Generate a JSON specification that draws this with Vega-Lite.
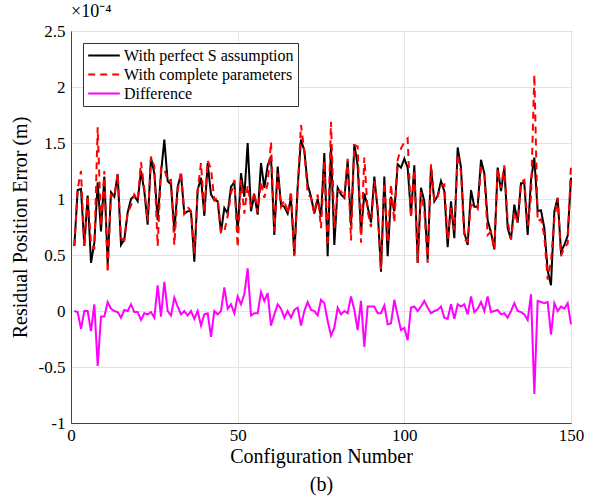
{
  "$schema": "https://vega.github.io/schema/vega-lite/v6.json",
  "width": 500,
  "height": 392,
  "autosize": {"type": "none"},
  "padding": {"left": 71, "top": 31, "right": 23, "bottom": 81},
  "background": "white",
  "title": {"text": "×10⁻⁴", "anchor": "start", "frame": "group", "font": "Liberation Serif", "fontSize": 18, "fontWeight": "normal", "color": "#000", "offset": 1},
  "data": {"values": [
    {"n":1,"S":0.58,"C":0.58,"D":0.00},{"n":2,"S":1.08,"C":1.09,"D":-0.01},{"n":3,"S":1.09,"C":1.25,"D":-0.16},{"n":4,"S":0.58,"C":0.58,"D":0.00},{"n":5,"S":1.03,"C":1.03,"D":0.00},
    {"n":6,"S":0.43,"C":0.61,"D":-0.18},{"n":7,"S":0.61,"C":0.55,"D":0.06},{"n":8,"S":1.15,"C":1.64,"D":-0.49},{"n":9,"S":0.71,"C":0.76,"D":-0.05},{"n":10,"S":1.20,"C":1.25,"D":-0.05},
    {"n":11,"S":0.42,"C":0.34,"D":0.08},{"n":12,"S":1.06,"C":1.04,"D":0.02},{"n":13,"S":1.02,"C":1.02,"D":0.00},{"n":14,"S":1.22,"C":1.23,"D":-0.01},{"n":15,"S":0.59,"C":0.65,"D":-0.06},
    {"n":16,"S":0.64,"C":0.63,"D":0.01},{"n":17,"S":0.88,"C":0.88,"D":0.00},{"n":18,"S":1.00,"C":0.94,"D":0.06},{"n":19,"S":1.03,"C":1.04,"D":-0.01},{"n":20,"S":0.98,"C":0.99,"D":-0.01},
    {"n":21,"S":1.25,"C":1.33,"D":-0.08},{"n":22,"S":1.07,"C":1.09,"D":-0.02},{"n":23,"S":0.77,"C":0.80,"D":-0.03},{"n":24,"S":1.37,"C":1.38,"D":-0.01},{"n":25,"S":1.23,"C":1.29,"D":-0.06},
    {"n":26,"S":0.81,"C":0.58,"D":0.23},{"n":27,"S":1.23,"C":1.28,"D":-0.05},{"n":28,"S":1.53,"C":1.27,"D":0.26},{"n":29,"S":1.16,"C":1.16,"D":0.00},{"n":30,"S":1.13,"C":1.17,"D":-0.04},
    {"n":31,"S":0.71,"C":0.59,"D":0.12},{"n":32,"S":1.11,"C":1.07,"D":0.04},{"n":33,"S":1.22,"C":1.25,"D":-0.03},{"n":34,"S":0.87,"C":0.87,"D":0.00},{"n":35,"S":0.89,"C":0.93,"D":-0.04},
    {"n":36,"S":0.89,"C":0.89,"D":0.00},{"n":37,"S":0.44,"C":0.51,"D":-0.07},{"n":38,"S":1.08,"C":1.08,"D":0.00},{"n":39,"S":1.19,"C":1.32,"D":-0.13},{"n":40,"S":0.85,"C":0.88,"D":-0.03},
    {"n":41,"S":1.32,"C":1.34,"D":-0.02},{"n":42,"S":1.04,"C":1.27,"D":-0.23},{"n":43,"S":0.99,"C":0.99,"D":0.00},{"n":44,"S":0.98,"C":1.01,"D":-0.03},{"n":45,"S":0.70,"C":0.70,"D":0.00},
    {"n":46,"S":0.92,"C":0.71,"D":0.21},{"n":47,"S":0.87,"C":0.85,"D":0.02},{"n":48,"S":1.11,"C":1.05,"D":0.06},{"n":49,"S":1.15,"C":1.17,"D":-0.02},{"n":50,"S":0.70,"C":0.57,"D":0.13},
    {"n":51,"S":1.23,"C":1.17,"D":0.06},{"n":52,"S":1.02,"C":0.87,"D":0.15},{"n":53,"S":1.50,"C":1.12,"D":0.38},{"n":54,"S":0.89,"C":0.93,"D":-0.04},{"n":55,"S":1.04,"C":1.06,"D":-0.02},
    {"n":56,"S":0.86,"C":0.88,"D":-0.02},{"n":57,"S":1.32,"C":1.15,"D":0.17},{"n":58,"S":1.10,"C":1.01,"D":0.09},{"n":59,"S":1.30,"C":1.14,"D":0.16},{"n":60,"S":1.38,"C":1.51,"D":-0.13},
    {"n":61,"S":0.68,"C":0.71,"D":-0.03},{"n":62,"S":1.29,"C":1.23,"D":0.06},{"n":63,"S":0.95,"C":0.93,"D":0.02},{"n":64,"S":0.93,"C":0.99,"D":-0.06},{"n":65,"S":0.87,"C":0.87,"D":0.00},
    {"n":66,"S":1.01,"C":1.07,"D":-0.06},{"n":67,"S":0.50,"C":0.49,"D":0.01},{"n":68,"S":1.11,"C":1.08,"D":0.03},{"n":69,"S":1.53,"C":1.66,"D":-0.13},{"n":70,"S":1.43,"C":1.43,"D":0.00},
    {"n":71,"S":1.13,"C":1.05,"D":0.08},{"n":72,"S":1.02,"C":1.01,"D":0.01},{"n":73,"S":0.87,"C":0.87,"D":0.00},{"n":74,"S":1.00,"C":1.04,"D":-0.04},{"n":75,"S":0.84,"C":0.74,"D":0.10},
    {"n":76,"S":1.41,"C":1.34,"D":0.07},{"n":77,"S":0.49,"C":0.58,"D":-0.09},{"n":78,"S":1.47,"C":1.69,"D":-0.22},{"n":79,"S":0.59,"C":0.74,"D":-0.15},{"n":80,"S":1.10,"C":1.07,"D":0.03},
    {"n":81,"S":1.04,"C":1.07,"D":-0.03},{"n":82,"S":1.01,"C":1.01,"D":0.00},{"n":83,"S":1.34,"C":1.36,"D":-0.02},{"n":84,"S":0.76,"C":0.63,"D":0.13},{"n":85,"S":1.49,"C":1.48,"D":0.01},
    {"n":86,"S":1.30,"C":1.47,"D":-0.17},{"n":87,"S":0.70,"C":0.61,"D":0.09},{"n":88,"S":1.05,"C":1.37,"D":-0.32},{"n":89,"S":0.93,"C":0.89,"D":0.04},{"n":90,"S":0.79,"C":0.75,"D":0.04},
    {"n":91,"S":1.20,"C":1.16,"D":0.04},{"n":92,"S":0.90,"C":0.92,"D":-0.02},{"n":93,"S":0.35,"C":0.37,"D":-0.02},{"n":94,"S":1.20,"C":1.15,"D":0.05},{"n":95,"S":0.49,"C":0.61,"D":-0.12},
    {"n":96,"S":1.02,"C":1.13,"D":-0.11},{"n":97,"S":0.89,"C":0.79,"D":0.10},{"n":98,"S":1.31,"C":1.35,"D":-0.04},{"n":99,"S":1.28,"C":1.45,"D":-0.17},{"n":100,"S":1.36,"C":1.51,"D":-0.15},
    {"n":101,"S":1.28,"C":1.54,"D":-0.26},{"n":102,"S":0.86,"C":0.83,"D":0.03},{"n":103,"S":1.30,"C":1.26,"D":0.04},{"n":104,"S":0.43,"C":0.43,"D":0.00},{"n":105,"S":1.10,"C":1.06,"D":0.04},
    {"n":106,"S":0.98,"C":0.89,"D":0.09},{"n":107,"S":0.46,"C":0.43,"D":0.03},{"n":108,"S":1.29,"C":1.31,"D":-0.02},{"n":109,"S":0.98,"C":0.98,"D":0.00},{"n":110,"S":1.03,"C":1.02,"D":0.01},
    {"n":111,"S":1.16,"C":1.12,"D":0.04},{"n":112,"S":1.07,"C":1.13,"D":-0.06},{"n":113,"S":0.57,"C":0.64,"D":-0.07},{"n":114,"S":0.98,"C":0.92,"D":0.06},{"n":115,"S":0.65,"C":0.72,"D":-0.07},
    {"n":116,"S":1.46,"C":1.40,"D":0.06},{"n":117,"S":1.28,"C":1.24,"D":0.04},{"n":118,"S":0.70,"C":0.64,"D":0.06},{"n":119,"S":0.59,"C":0.62,"D":-0.03},{"n":120,"S":1.08,"C":0.95,"D":0.13},
    {"n":121,"S":0.93,"C":0.94,"D":-0.01},{"n":122,"S":0.93,"C":0.91,"D":0.02},{"n":123,"S":1.35,"C":1.27,"D":0.08},{"n":124,"S":1.23,"C":1.23,"D":0.00},{"n":125,"S":0.81,"C":0.68,"D":0.13},
    {"n":126,"S":0.70,"C":0.71,"D":-0.01},{"n":127,"S":0.55,"C":0.55,"D":0.00},{"n":128,"S":1.28,"C":1.27,"D":0.01},{"n":129,"S":1.07,"C":1.10,"D":-0.03},{"n":130,"S":1.28,"C":1.30,"D":-0.02},
    {"n":131,"S":0.74,"C":0.80,"D":-0.06},{"n":132,"S":0.64,"C":0.64,"D":0.00},{"n":133,"S":0.95,"C":0.88,"D":0.07},{"n":134,"S":0.79,"C":0.79,"D":0.00},{"n":135,"S":1.14,"C":1.15,"D":-0.01},
    {"n":136,"S":1.14,"C":1.17,"D":-0.03},{"n":137,"S":0.68,"C":0.76,"D":-0.08},{"n":138,"S":1.17,"C":1.02,"D":0.15},{"n":139,"S":1.37,"C":2.11,"D":-0.74},{"n":140,"S":0.89,"C":0.80,"D":0.09},
    {"n":141,"S":0.90,"C":0.82,"D":0.08},{"n":142,"S":0.74,"C":0.67,"D":0.07},{"n":143,"S":0.36,"C":0.28,"D":0.08},{"n":144,"S":0.23,"C":0.44,"D":-0.21},{"n":145,"S":0.89,"C":0.82,"D":0.07},
    {"n":146,"S":1.01,"C":1.01,"D":0.00},{"n":147,"S":0.53,"C":0.49,"D":0.04},{"n":148,"S":0.59,"C":0.57,"D":0.02},{"n":149,"S":0.67,"C":0.60,"D":0.07},{"n":150,"S":1.19,"C":1.31,"D":-0.12}
  ]},
  "transform": [{"fold": ["S", "C", "D"], "as": ["series", "value"]}],
  "mark": {"type": "line", "strokeWidth": 2},
  "encoding": {
    "x": {"field": "n", "type": "quantitative",
      "scale": {"domain": [0, 150], "nice": false, "zero": false},
      "axis": {"values": [0, 50, 100, 150], "labelFlush": false, "title": ["Configuration Number", "(b)"], "titleLineHeight": 28, "titlePadding": 3, "labelPadding": 4}},
    "y": {"field": "value", "type": "quantitative",
      "scale": {"domain": [-1, 2.5], "nice": false, "zero": false},
      "axis": {"values": [-1, -0.5, 0, 0.5, 1, 1.5, 2, 2.5], "labelFlush": false, "labelExpr": "datum.value + ''", "title": "Residual Position Error (m)", "titlePadding": 8, "labelPadding": 6}},
    "color": {"field": "series", "type": "nominal",
      "scale": {"domain": ["S", "C", "D"], "range": ["#000000", "#ff0000", "#ff00ff"]},
      "legend": {"title": null, "orient": "top-left", "offset": 12,
        "labelExpr": "datum.label == 'S' ? 'With perfect S assumption' : datum.label == 'C' ? 'With complete parameters' : 'Difference'",
        "labelFont": "Liberation Serif", "labelFontSize": 16, "labelColor": "#000", "labelLimit": 400,
        "symbolType": "stroke", "symbolSize": 1000, "symbolStrokeWidth": 2, "clipHeight": 17,
        "strokeColor": "#333", "fillColor": "white", "padding": 4, "rowPadding": 2, "labelOffset": 3}},
    "strokeDash": {"field": "series", "type": "nominal",
      "scale": {"domain": ["S", "C", "D"], "range": [[1, 0], [7, 5], [1, 0]]},
      "legend": {"title": null, "orient": "top-left", "offset": 12,
        "labelExpr": "datum.label == 'S' ? 'With perfect S assumption' : datum.label == 'C' ? 'With complete parameters' : 'Difference'",
        "labelFont": "Liberation Serif", "labelFontSize": 16, "labelColor": "#000", "labelLimit": 400,
        "symbolType": "stroke", "symbolSize": 1000, "symbolStrokeWidth": 2, "clipHeight": 17,
        "strokeColor": "#333", "fillColor": "white", "padding": 4, "rowPadding": 2, "labelOffset": 3}}
  },
  "config": {
    "view": {"stroke": "#444", "strokeWidth": 1},
    "axis": {
      "labelFont": "Liberation Serif", "labelFontSize": 17, "labelColor": "#000",
      "titleFont": "Liberation Serif", "titleFontSize": 20, "titleFontWeight": "normal", "titleColor": "#000",
      "grid": true, "gridColor": "#e3e3e3", "gridWidth": 1,
      "domainColor": "#444", "ticks": false
    }
  }
}
